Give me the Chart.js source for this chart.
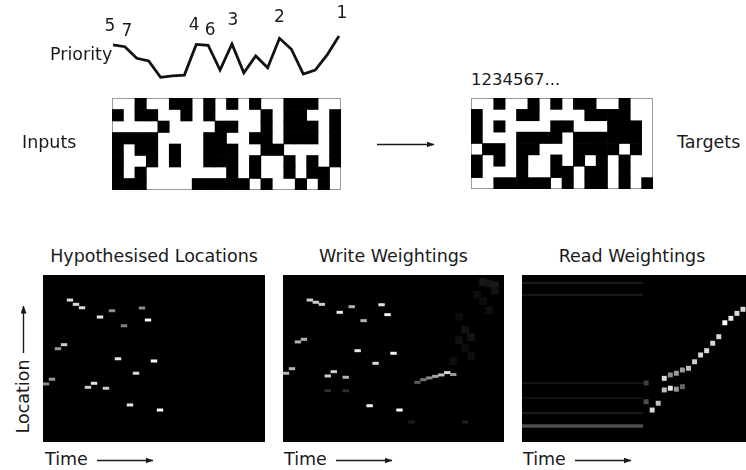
<!DOCTYPE html>
<html><head><meta charset="utf-8">
<script src="https://cdn.jsdelivr.net/npm/chart.js@4.4.1/dist/chart.umd.min.js"></script>
<style>
html,body{margin:0;padding:0;background:#fff;}
#wrap{position:relative;width:746px;height:470px;overflow:hidden;font-family:"DejaVu Sans",sans-serif;color:#1a1a1a;}
.box{position:absolute;}
.lbl{position:absolute;font-size:17.5px;line-height:17px;white-space:nowrap;}
svg{position:absolute;left:0;top:0;pointer-events:none;}
</style></head><body>
<div id="wrap">
  <div class="box" style="left:100px;top:0px;width:252px;height:86px"><canvas id="prio"></canvas></div>
  <div class="box" style="left:112px;top:98px;width:229px;height:92px"><canvas id="inputs"></canvas></div>
  <div class="box" style="left:471px;top:98px;width:182px;height:91px"><canvas id="targets"></canvas></div>
  <div class="box" style="left:43px;top:275px;width:222px;height:167px"><canvas id="hyp"></canvas></div>
  <div class="box" style="left:283px;top:275px;width:221px;height:167px"><canvas id="write"></canvas></div>
  <div class="box" style="left:522px;top:275px;width:224px;height:167px"><canvas id="read"></canvas></div>

  <div class="lbl" style="left:50px;top:46px;">Priority</div>
  <div class="lbl" style="left:22px;top:134px;">Inputs</div>
  <div class="lbl" style="left:677px;top:134px;">Targets</div>
  <div class="lbl" style="left:471px;top:71px;font-size:16.5px;">1234567...</div>
  <div class="lbl" style="left:43px;top:248px;width:222px;text-align:center;">Hypothesised Locations</div>
  <div class="lbl" style="left:283px;top:248px;width:221px;text-align:center;">Write Weightings</div>
  <div class="lbl" style="left:522px;top:248px;width:220px;text-align:center;">Read Weightings</div>
  <div class="lbl" style="left:45px;top:451px;">Time</div>
  <div class="lbl" style="left:284px;top:451px;">Time</div>
  <div class="lbl" style="left:523px;top:451px;">Time</div>
  <div class="lbl" style="left:-14px;top:388px;width:74px;text-align:center;transform:rotate(-90deg);">Location</div>

  <svg width="746" height="470" viewBox="0 0 746 470">
    <defs><marker id="ah" markerWidth="8" markerHeight="6" refX="7.5" refY="3" orient="auto" markerUnits="userSpaceOnUse">
      <path d="M0,0 L8,3 L0,6 Z" fill="#1a1a1a"/></marker></defs>
    <g stroke="#1a1a1a" stroke-width="1.4" marker-end="url(#ah)">
      <line x1="377" y1="144.5" x2="434" y2="144.5"/>
      <line x1="23.5" y1="353" x2="23.5" y2="306"/>
      <line x1="97" y1="460.5" x2="153" y2="460.5"/>
      <line x1="336" y1="460.5" x2="392" y2="460.5"/>
      <line x1="575" y1="460.5" x2="631" y2="460.5"/>
    </g>
  </svg>
</div>
<script>
// ---------------- data ----------------
const priorityLabels = ['5','7','','','','','','4','6','','3','','','','2','','','','','1'];
const priority = [0.58,0.49,-0.06,-0.19,-0.97,-0.90,-0.86,0.60,0.56,-0.62,0.62,-0.75,0.05,-0.51,0.89,0.37,-0.81,-0.62,0.10,1.0];

const inputRows = [
  '00100110101010011100',
  '10110010100001011001',
  '00001000011001011101',
  '11110000110011011101',
  '10110100111001100001',
  '10010100111010010101',
  '10100000001010010110',
  '11100001111101001010'
];
const targetRows = [
  '0010010101100100',
  '1000110000111100',
  '1010000110001110',
  '1000111101111110',
  '0110110001111010',
  '1010100101010100',
  '1000100110110100',
  '0011111010110101'
];

// Hypothesised locations (time step, location 0-128, intensity 0-1)
const hypTime = [0,1,2,3,4,5,6,7,8,9,10,11,12,13,14,15,16,17,18,19];
const hypLoc  = [44.5,48.1,71.5,74.6,108.8,105.5,102.9,41.9,45.0,95.8,41.2,100.6,63.8,89.1,28.4,52.7,102.7,93.5,62.1,24.5];
const hypInt  = [0.55,0.6,0.6,0.8,0.85,0.85,0.85,0.8,0.9,0.9,0.8,0.55,0.9,0.5,0.9,0.85,0.55,0.95,1.0,1.0];

// Write weightings
const writeTime = [0,1,2,3,4,5,6,7,8,9,10,11,12,13,14,15,16,17,18,19, 22,23,24,25,26,27,28, 7,10,21,30];
const writeLoc  = [52.7,56.2,76.7,78.7,108.8,107.1,105.5,50.6,53.9,99.4,49.6,103.7,70.0,93.0,27.8,60.3,105.2,97.6,68.0,24.5,
                   45.7,47.8,49.1,50.3,51.4,53.2,51.7, 39.3,39.3,15.3,15.3];
const writeInt  = [0.7,0.7,0.7,0.7,0.8,0.8,0.8,0.8,0.8,0.9,0.7,0.7,0.9,0.7,0.95,0.85,0.9,0.95,0.95,1.0,
                   0.35,0.45,0.55,0.65,0.75,0.85,0.6, 0.18,0.18,0.12,0.12];
// faint diffuse write activity (right side)
const writeFaintTime = [33,34,35,35,32,33,30,31,29,30,31,28,29,34];
const writeFaintLoc  = [122.6,121.5,120.0,116.0,112.7,108.0,86.0,80.5,78.0,72.0,66.0,62.0,96.0,101.0];
const writeFaintInt  = [0.09,0.08,0.1,0.07,0.05,0.05,0.07,0.08,0.06,0.05,0.05,0.05,0.045,0.05];

// Read weightings
const readTime = [21,22,23,23,24,24,25,26,26,27,28,29,30,31,32,33,34,35,36, 20,20,25];
const readLoc  = [24.5,29.7,48.8,39.9,41.2,51.4,52.7,42.4,55.2,56.5,61.5,66.7,70.0,75.7,80.7,91.4,94.8,98.6,101.7, 30.9,45.2,40.5];
const readInt  = [0.85,0.75,0.85,0.75,0.9,0.55,0.6,0.4,0.6,0.75,0.8,0.85,0.85,0.85,0.85,1.0,0.9,0.85,0.85, 0.3,0.25,0.6];
// faint horizontal read streaks during input phase (location, intensity)
const readStreakLoc = [121.9,112.7,45.2,33.7,22.2,12.3];
const readStreakInt = [0.1,0.09,0.08,0.06,0.1,0.3];
const inputSteps = 20;
const totalSteps = 37;

// ---------------- helpers ----------------
const gray = (v, a) => `rgba(${Math.round(255*v)},${Math.round(255*v)},${Math.round(255*v)},${a===undefined?1:a})`;
const baseOpts = {
  animation:false, responsive:true, maintainAspectRatio:false, events:[],
  plugins:{legend:{display:false}, tooltip:{enabled:false}, title:{display:false}},
};

const framePlugin = {
  id:'frame',
  beforeDatasetsDraw(chart){
    const {ctx, chartArea:a} = chart;
    ctx.save(); ctx.fillStyle='#fff'; ctx.fillRect(a.left,a.top,a.right-a.left,a.bottom-a.top);
    ctx.strokeStyle='#9a9a9a'; ctx.lineWidth=1;
    ctx.strokeRect(a.left+0.5,a.top+0.5,a.right-a.left-1,a.bottom-a.top-1); ctx.restore();
  }
};
const blackBg = {
  id:'blackBg',
  beforeDatasetsDraw(chart){
    const {ctx, chartArea:a} = chart;
    ctx.save(); ctx.fillStyle='#000'; ctx.fillRect(a.left,a.top,a.right-a.left,a.bottom-a.top); ctx.restore();
  }
};
const labelOffsets = {'5':[-3,-18],'7':[2,-15],'4':[-2,-19],'6':[2,-15],'3':[1,-23],'2':[0,-21],'1':[3,-22]};
const prioLabelPlugin = {
  id:'prioLabels',
  afterDatasetsDraw(chart){
    const {ctx} = chart; const meta = chart.getDatasetMeta(0);
    ctx.save(); ctx.fillStyle='#1a1a1a'; ctx.font='17px "DejaVu Sans"'; ctx.textAlign='center'; ctx.textBaseline='middle';
    meta.data.forEach((pt,i)=>{ const t=priorityLabels[i]; if(!t) return; const o=labelOffsets[t]||[0,-19];
      ctx.fillText(t, pt.x+o[0], pt.y+o[1]); });
    ctx.restore();
  }
};

// ---------------- priority line ----------------
new Chart(document.getElementById('prio'), {
  type:'line',
  data:{ datasets:[{ data: priority.map((p,i)=>({x:i,y:p})), borderColor:'#111', borderWidth:2.8,
    pointRadius:0, tension:0, borderJoinStyle:'miter', clip:false }]},
  options:Object.assign({}, baseOpts, {
    layout:{padding:{left:13,right:13,top:36,bottom:8}, autoPadding:false},
    scales:{ x:{type:'linear',display:false,min:0,max:19}, y:{display:false,min:-1,max:1} }
  }),
  plugins:[prioLabelPlugin]
});

// ---------------- binary grids ----------------
function gridChart(id, rows){
  const labels = rows[0].split('').map((_,i)=>String(i+1));
  const datasets = rows.map((row,r)=>({
    data: row.split('').map(b=> b==='1' ? [r, r+1] : null),
    backgroundColor:'#000', borderWidth:0, barPercentage:1, categoryPercentage:1, grouped:false
  }));
  new Chart(document.getElementById(id), {
    type:'bar', data:{labels, datasets},
    options:Object.assign({}, baseOpts, {
      layout:{padding:0, autoPadding:false},
      scales:{ x:{display:false}, y:{display:false, min:0, max:rows.length, reverse:true} }
    }),
    plugins:[framePlugin]
  });
}
gridChart('inputs', inputRows);
gridChart('targets', targetRows);

// ---------------- heat panels ----------------
function pts(t, loc){ return t.map((x,i)=>({x, y:loc[i]})); }
function panelOpts(){
  return Object.assign({}, baseOpts, {
    layout:{padding:0, autoPadding:false},
    scales:{ x:{type:'linear',display:false,min:-0.5,max:totalSteps-0.5}, y:{display:false,min:0,max:128} }
  });
}
new Chart(document.getElementById('hyp'), {
  type:'scatter',
  data:{ datasets:[{ data:pts(hypTime,hypLoc), pointStyle:'line', pointRadius:3.2, pointBorderWidth:3,
    pointBorderColor:hypInt.map(v=>gray(v)), pointBackgroundColor:hypInt.map(v=>gray(v)) }]},
  options:panelOpts(), plugins:[blackBg]
});
new Chart(document.getElementById('write'), {
  type:'scatter',
  data:{ datasets:[
    { data:pts(writeFaintTime,writeFaintLoc), pointStyle:'rect', pointRadius:5.5,
      pointBorderWidth:0, pointBackgroundColor:writeFaintInt.map(v=>gray(v)) },
    { data:pts(writeTime,writeLoc), pointStyle:'line', pointRadius:3.2, pointBorderWidth:3,
      pointBorderColor:writeInt.map(v=>gray(v)), pointBackgroundColor:writeInt.map(v=>gray(v)) }
  ]},
  options:panelOpts(), plugins:[blackBg]
});
new Chart(document.getElementById('read'), {
  type:'scatter',
  data:{ datasets:[
    ...readStreakLoc.map((l,i)=>({ data:[{x:-0.5,y:l},{x:inputSteps-0.5,y:l}], showLine:true, pointRadius:0,
      borderColor:gray(readStreakInt[i]), borderWidth: i===readStreakLoc.length-1 ? 3.5 : 2 })),
    { data:pts(readTime,readLoc), pointStyle:'rect', pointRadius:3.5, pointBorderWidth:0,
      pointBackgroundColor:readInt.map(v=>gray(v)) }
  ]},
  options:panelOpts(), plugins:[blackBg]
});
</script>
</body></html>
